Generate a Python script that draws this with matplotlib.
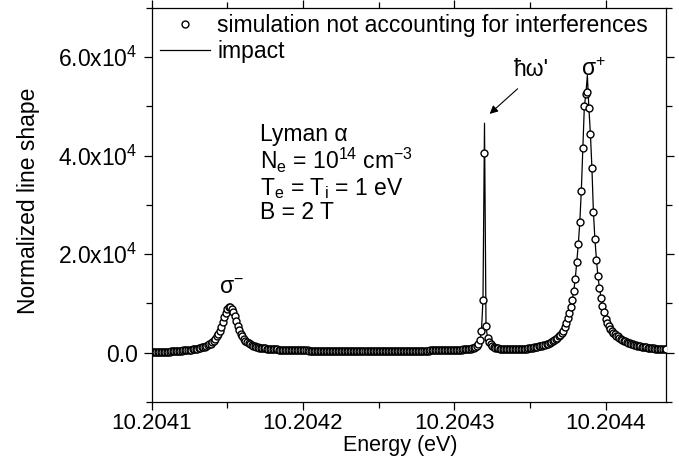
import numpy as np
import matplotlib.pyplot as plt
from matplotlib.ticker import MultipleLocator, FuncFormatter

plt.rcParams['font.family'] = ['Liberation Sans', 'DejaVu Sans']
plt.rcParams['mathtext.fontset'] = 'custom'
plt.rcParams['mathtext.rm'] = 'Liberation Sans'
plt.rcParams['mathtext.it'] = 'Liberation Sans:italic'
plt.rcParams['mathtext.bf'] = 'Liberation Sans:bold'
FS = 16.5

# energy grid of the simulation (eV)
e_start = 10.2041
e_step = 1e-6

# normalized line shape, units of 1e3, one value per grid point
sim_k = [
    0.10, 0.11, 0.12, 0.13, 0.14, 0.15, 0.16, 0.17, 0.18, 0.19,
    0.20, 0.22, 0.24, 0.26, 0.28, 0.30, 0.33, 0.36, 0.39, 0.42,
    0.45, 0.48, 0.51, 0.54, 0.57, 0.60, 0.64, 0.68, 0.72, 0.77,
    0.85, 0.92, 1.00, 1.08, 1.16, 1.25, 1.40, 1.55, 1.70, 1.85,
    2.10, 2.40, 2.80, 3.30, 3.80, 4.50, 5.30, 6.30, 7.20, 8.10,
    8.80, 9.20, 9.30, 8.90, 8.30, 7.40, 6.40, 5.50, 4.60, 3.90,
    3.30, 2.80, 2.40, 2.10, 1.90, 1.75, 1.60, 1.45, 1.30, 1.20,
    1.10, 1.05, 1.00, 0.96, 0.92, 0.88, 0.85, 0.82, 0.79, 0.76,
    0.73, 0.71, 0.69, 0.67, 0.65, 0.63, 0.61, 0.59, 0.57, 0.56,
    0.55, 0.54, 0.53, 0.52, 0.51, 0.50, 0.50, 0.49, 0.48, 0.48,
    0.47, 0.47, 0.46, 0.46, 0.45, 0.45, 0.45, 0.44, 0.44, 0.44,
    0.43, 0.43, 0.43, 0.43, 0.42, 0.42, 0.42, 0.42, 0.41, 0.41,
    0.41, 0.41, 0.41, 0.40, 0.40, 0.40, 0.40, 0.40, 0.40, 0.39,
    0.39, 0.39, 0.39, 0.39, 0.39, 0.39, 0.38, 0.38, 0.38, 0.38,
    0.38, 0.38, 0.38, 0.38, 0.38, 0.38, 0.38, 0.38, 0.38, 0.38,
    0.38, 0.38, 0.38, 0.38, 0.38, 0.38, 0.38, 0.38, 0.39, 0.39,
    0.39, 0.39, 0.39, 0.39, 0.39, 0.40, 0.40, 0.40, 0.40, 0.40,
    0.41, 0.41, 0.41, 0.41, 0.42, 0.42, 0.42, 0.43, 0.43, 0.43,
    0.44, 0.44, 0.45, 0.45, 0.46, 0.46, 0.47, 0.47, 0.48, 0.48,
    0.49, 0.50, 0.50, 0.51, 0.52, 0.53, 0.54, 0.55, 0.56, 0.57,
    0.58, 0.59, 0.61, 0.62, 0.64, 0.65, 0.67, 0.69, 0.71, 0.73,
    0.76, 0.80, 0.88, 1.00, 1.20, 1.45, 1.85, 2.60, 4.50, 10.80,
    40.50, 5.40, 3.00, 2.20, 1.70, 1.40, 1.20, 1.05, 0.95, 0.90,
    0.85, 0.80, 0.77, 0.74, 0.72, 0.70, 0.69, 0.68, 0.68, 0.68,
    0.68, 0.69, 0.70, 0.72, 0.74, 0.76, 0.79, 0.82, 0.86, 0.90,
    0.94, 0.98, 1.03, 1.08, 1.14, 1.20, 1.27, 1.34, 1.42, 1.51,
    1.61, 1.72, 1.85, 1.99, 2.15, 2.33, 2.53, 2.76, 3.02, 3.30,
    3.60, 4.00, 4.50, 5.20, 6.00, 7.00, 8.10, 9.30, 10.70, 12.60,
    15.00, 18.50, 22.00, 26.50, 32.90, 41.50, 50.00, 52.50, 53.00, 49.70,
    44.50, 37.60, 28.50, 23.00, 18.90, 15.50, 13.10, 11.20, 9.40, 8.20,
    6.90, 6.10, 5.50, 4.90, 4.50, 4.10, 3.80, 3.50, 3.30, 3.00,
    2.80, 2.60, 2.45, 2.30, 2.15, 2.00, 1.90, 1.80, 1.70, 1.62,
    1.54, 1.46, 1.39, 1.32, 1.26, 1.20, 1.15, 1.10, 1.05, 1.00,
    0.96, 0.92, 0.88, 0.85, 0.82, 0.79, 0.76, 0.73, 0.70, 0.68,
    0.66,
]
# the impact curve follows the simulation except at the two peak tops
impact_peaks = {220: 46.6, 288: 56.3}

energy = e_start + e_step * np.arange(len(sim_k))
sim = np.array(sim_k) * 1e3
impact = sim.copy()
for i, v in impact_peaks.items():
    impact[i] = v * 1e3

fig = plt.figure(figsize=(6.79, 4.59), dpi=100)
ax = fig.add_axes([0.2234, 0.1242, 0.7575, 0.8584])

ax.plot(energy, sim, 'o', ms=5.0, mfc='white', mec='black', mew=1.0,
        zorder=3, label='simulation not accounting for interferences')
ax.plot(energy, impact, '-', color='black', lw=0.9, zorder=2, label='impact')

ax.set_xlim(10.2041, 10.20444)
ax.set_ylim(-1e4, 7e4)

ax.xaxis.set_major_locator(MultipleLocator(1e-4))
ax.xaxis.set_minor_locator(MultipleLocator(5e-5))
ax.yaxis.set_major_locator(MultipleLocator(2e4))
ax.yaxis.set_minor_locator(MultipleLocator(1e4))
ax.xaxis.set_major_formatter(FuncFormatter(lambda v, p: f'{v:.4f}'))


def yfmt(v, p):
    if abs(v) < 1:
        return '0.0'
    return f'{v / 1e4:.1f}x10$^{{4}}$'


ax.yaxis.set_major_formatter(FuncFormatter(yfmt))
ax.tick_params(which='both', direction='out', top=True, right=True,
               labelsize=FS, width=0.9)
ax.tick_params(axis='x', pad=2, labelsize=16)
ax.tick_params(axis='y', pad=4)
ax.tick_params(which='major', length=6)
ax.tick_params(which='minor', length=4)
for s in ax.spines.values():
    s.set_linewidth(0.9)

ax.set_xlabel('Energy (eV)', fontsize=15.5)
ax.xaxis.set_label_coords(0.483, -0.084)
ax.set_ylabel('Normalized line shape', fontsize=FS)
ax.yaxis.set_label_coords(-0.217, 0.51)

leg = ax.legend(loc='upper left', bbox_to_anchor=(0.016, 0.985), frameon=False,
                fontsize=FS, numpoints=1, handlelength=2.2, handletextpad=0.3,
                borderpad=0, borderaxespad=0, labelspacing=0.15)

ax.text(10.2041715, 42.9e3, 'Lyman α', fontsize=FS)
ax.text(10.2041715, 37.3e3, r'N$_\mathregular{e}$ = 10$^{14}$ cm$^{-3}$', fontsize=FS)
ax.text(10.2041715, 32.1e3, r'T$_\mathregular{e}$ = T$_\mathregular{i}$ = 1 eV', fontsize=FS)
ax.text(10.2041715, 27.1e3, 'B = 2 T', fontsize=FS)

ax.text(10.204153, 12.0e3, r'σ$^{-}$', fontsize=FS, ha='center')
ax.text(10.204392, 56.1e3, r'σ$^{+}$', fontsize=FS, ha='center')
ax.text(10.204351, 56.1e3, "ħω'", fontsize=FS, ha='center')
ax.annotate('', xy=(10.2043234, 48.5e3), xytext=(10.2043419, 53.6e3),
            arrowprops=dict(arrowstyle='-|>', color='black', lw=0.8,
                            mutation_scale=12, shrinkA=0, shrinkB=0))

plt.savefig('out.png', dpi=100)
